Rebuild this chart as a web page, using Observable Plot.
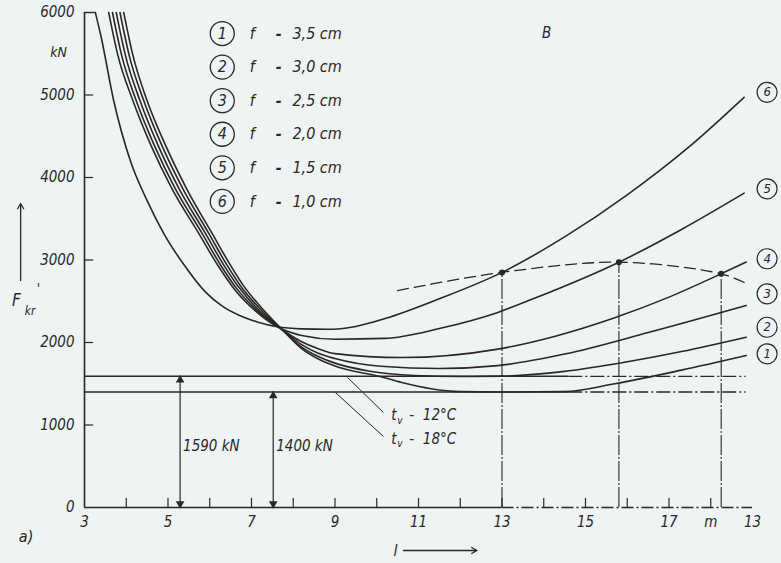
<!DOCTYPE html>
<html><head><meta charset="utf-8">
<script src="https://cdn.jsdelivr.net/npm/d3@7"></script>
<script src="https://cdn.jsdelivr.net/npm/@observablehq/plot@0.6"></script>
<style>
html,body{margin:0;padding:0;background:#eef3f3;}
#chart svg{display:block;}
</style></head><body><div id="chart"></div>
<script>
// ---- data ----
const curveIds = ["1","2","3","4","5","6"];
const fLabels = ["3,5 cm","3,0 cm","2,5 cm","2,0 cm","1,5 cm","1,0 cm"];

const curve1 = [[3.94,6000],[4.16,5480],[4.50,4930],[4.95,4380],[5.45,3860],[6.06,3320],[6.48,2950],[6.82,2680],[7.26,2410],[7.70,2175],[8.2,1925],[8.6,1800],[9.0,1715],[10.1,1585],[10.6,1515],[11.3,1440],[12.0,1405],[13.0,1400],[14.5,1405],[15.7,1500],[17.3,1665],[18.85,1842]];
const curve2 = [[3.85,6000],[4.07,5480],[4.42,4930],[4.86,4380],[5.36,3860],[5.98,3320],[6.41,2940],[6.76,2670],[7.22,2400],[7.68,2180],[8.2,1945],[8.6,1830],[9.0,1750],[9.8,1655],[10.9,1600],[12.0,1588],[13.0,1592],[14.5,1650],[15.7,1740],[17.3,1890],[18.85,2064]];
const curve3 = [[3.76,6000],[3.98,5480],[4.33,4930],[4.77,4380],[5.27,3860],[5.90,3320],[6.34,2935],[6.71,2660],[7.18,2390],[7.66,2185],[8.2,1975],[8.6,1870],[9.0,1805],[10.1,1712],[11.5,1685],[12.9,1720],[14.5,1860],[16.5,2120],[18.85,2448]];
const curve4 = [[3.67,6000],[3.89,5480],[4.24,4930],[4.68,4380],[5.18,3860],[5.82,3320],[6.27,2930],[6.65,2650],[7.14,2385],[7.64,2188],[8.2,2010],[8.6,1925],[9.0,1865],[10.6,1818],[12.9,1920],[14.3,2080],[15.7,2300],[17.0,2550],[18.25,2833],[18.85,2975]];
const curve5 = [[3.58,6000],[3.80,5480],[4.16,4930],[4.60,4380],[5.10,3860],[5.74,3320],[6.20,2930],[6.60,2640],[7.10,2380],[7.62,2190],[8.2,2085],[9.0,2040],[10.2,2050],[11.5,2170],[12.9,2365],[13.7,2520],[15.8,2973],[17.3,3370],[18.8,3810]];
const curve6 = [[3.26,6000],[3.40,5700],[3.70,4930],[4.10,4200],[4.50,3720],[4.90,3320],[5.40,2930],[5.90,2610],[6.30,2440],[6.70,2330],[7.20,2240],[7.62,2190],[8.2,2165],[8.8,2160],[9.5,2195],[10.2,2290],[11.5,2530],[13.0,2850],[14.5,3280],[16.0,3790],[17.5,4380],[18.8,4973]];

const limitLine = [[10.5,2630],[13.0,2850],[15.8,2973],[18.25,2833],[18.85,2715]];
const limitPoints = [[13.0,2850],[15.8,2973],[18.25,2833]];
const hLines = [1590, 1400];
const hLabels = ["1590 kN", "1400 kN"];
const hArrowX = [5.29, 7.52];
const tvLabels = ["12°C", "18°C"];

const xTickLabelValues = [3,5,7,9,11,13,15,17,18,19];
const xTickLabels = ["3","5","7","9","11","13","15","17","m","13"];
const xMinorTicks = [4,5,6,7,8,9,10,11,12,13,14,15,16,17,18];
const yTickValues = [0,1000,2000,3000,4000,5000,6000];
const yMinorTicks = [1000,2000,3000,4000,5000];

// ---- build ----
const curves = [curve1,curve2,curve3,curve4,curve5,curve6];
const lineData = curves.flatMap((c,i)=>c.map(([l,F])=>({l,F,id:curveIds[i]})));
const ink = "#2b2724";
const font = "'DejaVu Sans Condensed','Liberation Sans Narrow','DejaVu Sans',sans-serif";
const xLabelMap = new Map(xTickLabelValues.map((v,i)=>[v,xTickLabels[i]]));

const legend = curveIds.map((id,i)=>({id, f: fLabels[i], y: 5745 - i*407}));
const rightLabelY = [1863, 2185, 2590, 3015, 3863, 5033];
const rightLabels = curveIds.map((id,i)=>({id, y:rightLabelY[i]}));

const txt = (data, o) => Plot.text(data, {fontFamily: font, fontStyle: "italic", fill: ink, fontSize: 15, ...o});

const chart = Plot.plot({
  width: 781, height: 563,
  marginLeft: 84, marginRight: 29, marginTop: 12, marginBottom: 56,
  x: {domain: [3, 19]},
  y: {domain: [0, 6000]},
  style: {background: "transparent", color: ink, fontFamily: font},
  marks: [
    // axes frame
    Plot.ruleX([3], {y1: 0, y2: 6000, stroke: ink, strokeWidth: 1.6}),
    Plot.ruleY([6000], {x1: 3, x2: 3.26, stroke: ink, strokeWidth: 1.4}),
    Plot.ruleY([0], {x1: 3, x2: 13, stroke: ink, strokeWidth: 1.6}),
    Plot.ruleY([0], {x1: 13, x2: 19, stroke: ink, strokeWidth: 1.3, strokeDasharray: "12,3,2,3"}),
    Plot.ruleX(xMinorTicks, {x: d=>d, y1: 0, y2: 110, stroke: ink, strokeWidth: 1.2}),
    Plot.ruleY(yMinorTicks, {y: d=>d, x1: 3, x2: 3.22, stroke: ink, strokeWidth: 1.2}),
    Plot.axisX(xTickLabelValues, {tickSize: 0, tickPadding: 9, fontSize: 15, fontStyle: "italic", fontFamily: font, tickFormat: d=>xLabelMap.get(d), label: null}),
    Plot.axisY(yTickValues, {tickSize: 0, tickPadding: 10, fontSize: 15, fontStyle: "italic", fontFamily: font, tickFormat: d=>String(d), label: null}),

    // horizontal limit lines
    Plot.ruleY(hLines, {x1: 3, x2: 14.6, stroke: ink, strokeWidth: 1.5}),
    Plot.ruleY(hLines, {x1: 14.6, x2: 18.85, stroke: ink, strokeWidth: 1.3, strokeDasharray: "14,3,2,3"}),
    // vertical arrows
    Plot.ruleX(hArrowX, {x: d=>d, y1: 0, y2: (d,i)=>hLines[i], stroke: ink, strokeWidth: 1.2}),
    Plot.dot(hArrowX, {x: d=>d, y: (d,i)=>hLines[i]-45, symbol: "triangle", fill: ink, r: 3.2}),
    Plot.dot(hArrowX, {x: d=>d, y: 45, symbol: "triangle", rotate: 180, fill: ink, r: 3.2}),
    txt(hArrowX, {x: d=>d, y: 739, text: (d,i)=>hLabels[i], textAnchor: "start", dx: 3}),

    // vertical lines from limit points
    Plot.ruleX(limitPoints, {x: d=>d[0], y1: 0, y2: d=>d[1], stroke: ink, strokeWidth: 1.1, strokeDasharray: "20,2,2,2"}),

    // curves
    Plot.line(lineData, {x: "l", y: "F", z: "id", curve: "monotone-x", stroke: ink, strokeWidth: 1.6}),
    Plot.line(limitLine, {x: d=>d[0], y: d=>d[1], curve: "catmull-rom", stroke: ink, strokeWidth: 1.3, strokeDasharray: "11,6"}),
    Plot.dot(limitPoints, {x: d=>d[0], y: d=>d[1], r: 3, fill: ink}),

    // tv leaders and labels
    Plot.link([0], {x1: 9.30, y1: 1576, x2: 10.16, y2: 1152, stroke: ink, strokeWidth: 1}),
    Plot.link([0], {x1: 9.01, y1: 1394, x2: 10.16, y2: 861, stroke: ink, strokeWidth: 1}),
    txt(tvLabels, {x: 10.35, y: (d,i)=>[1115, 830][i], text: ()=>"t", textAnchor: "start"}),
    txt(tvLabels, {x: 10.35, y: (d,i)=>[1115, 830][i], text: ()=>"v", textAnchor: "start", fontSize: 10, dx: 6, dy: 5}),
    txt(tvLabels, {x: 10.35, y: (d,i)=>[1115, 830][i], text: d=>"-  " + d, textAnchor: "start", dx: 18}),

    // legend
    Plot.dot(legend, {x: 6.3, y: "y", r: 12, stroke: ink, strokeWidth: 1.3, fill: "none"}),
    txt(legend, {x: 6.3, y: "y", text: "id", fontSize: 16}),
    txt(legend, {x: 7.02, y: "y", text: ()=>"f", fontSize: 16}),
    txt(legend, {x: 7.65, y: "y", text: ()=>"-", fontSize: 16, fontWeight: "bold"}),
    txt(legend, {x: 7.98, y: "y", text: "f", fontSize: 16, textAnchor: "start"}),

    // right-side labels
    Plot.dot(rightLabels, {x: 19.35, y: "y", r: 10, stroke: ink, strokeWidth: 1.2, fill: "none"}),
    txt(rightLabels, {x: 19.35, y: "y", text: "id", fontSize: 13}),

    // misc annotations
    txt(["kN"], {x: 2.38, y: 5520, text: d=>d, fontSize: 14}),
    txt(["B"], {x: 14.07, y: 5745, text: d=>d, fontSize: 15}),
    Plot.arrow([0], {x1: 1.47, y1: 2752, x2: 1.47, y2: 3685, stroke: ink, strokeWidth: 1.3, headLength: 7}),
    txt(["F"], {x: 1.37, y: 2509, text: d=>d, fontSize: 17}),
    txt(["kr"], {x: 1.57, y: 2380, text: d=>d, fontSize: 12, textAnchor: "start"}),
    txt(["'"], {x: 1.9, y: 2650, text: d=>d, fontSize: 14}),
    txt(["l"], {x: 10.45, y: -521, text: d=>d, fontSize: 16}),
    Plot.arrow([0], {x1: 10.64, y1: -521, x2: 12.4, y2: -521, stroke: ink, strokeWidth: 1.3, headLength: 7}),
    txt(["a)"], {x: 1.6, y: -350, text: d=>d, fontSize: 16})
  ]
});
document.getElementById("chart").append(chart);
</script>
</body></html>
